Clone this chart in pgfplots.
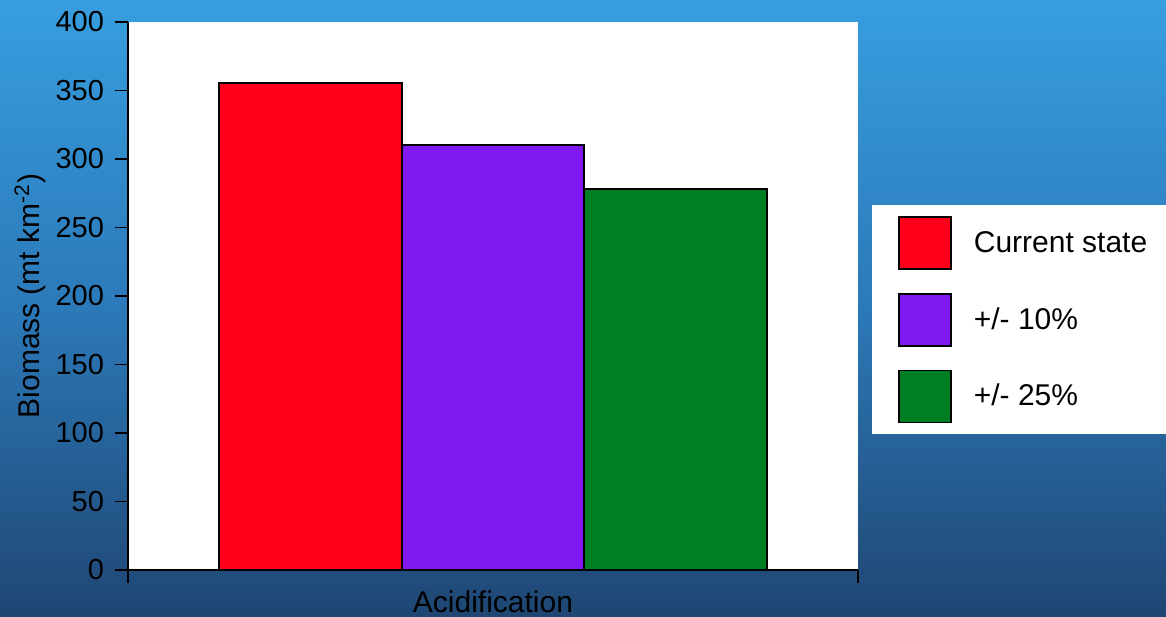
\documentclass[border=0pt]{standalone}
\usepackage{fontspec}
\setmainfont{Liberation Sans}
\usepackage{pgfplots}
\pgfplotsset{compat=1.18}
\definecolor{bgtop}{HTML}{379EDF}
\definecolor{bgmid}{HTML}{2C79B8}
\definecolor{bgbot}{HTML}{1F4673}
\definecolor{cred}{HTML}{FE0019}
\definecolor{cpurple}{HTML}{7F18F1}
\definecolor{cgreen}{HTML}{007E23}
\begin{document}
\begin{tikzpicture}
\useasboundingbox (0,0) rectangle (583pt,308pt);
\shade[top color=bgtop, bottom color=bgbot, middle color=bgmid] (0,0) rectangle (583pt,308pt);
\begin{axis}[
  at={(64pt,23pt)}, anchor=south west,
  width=365pt, height=274pt, scale only axis,
  xmin=0, xmax=4, ymin=0, ymax=400,
  ytick={0,50,...,400}, xtick={0,4}, xticklabels={},
  axis x line*=bottom, axis y line*=left,
  axis line style={-, black, line width=0.8pt},
  tick align=outside, major tick length=6.5pt,
  tick style={black, line width=0.8pt},
  axis background/.style={fill=white},
  /pgf/number format/assume math mode=true,
  tick label style={font=\fontsize{14.5}{17}\selectfont},
  yticklabel style={xshift=-2pt},
  ylabel={Biomass (mt km\textsuperscript{-2})},
  ylabel style={at={(axis description cs:-0.134,0.5)}, anchor=center, rotate=0, font=\fontsize{15}{18}\selectfont},
  xlabel={Acidification},
  xlabel style={at={(axis description cs:0.5,-0.058)}, anchor=center, font=\fontsize{15}{18}\selectfont},
  ybar, bar width=1, bar shift=0pt,
  legend image code/.code={\draw[#1,draw=black,line width=0.8pt] (0pt,-13pt) rectangle (26pt,13pt);},
  legend cell align=left,
  legend style={at={(axis description cs:1.019,0.666)}, anchor=north west,
    fill=white, draw=none, font=\fontsize{15}{18}\selectfont,
    column sep=11pt, row sep=11.5pt, inner xsep=13pt, inner ysep=5.5pt,
    nodes={inner sep=0pt}},
]
\addplot[fill=cred, draw=black, line width=0.8pt] coordinates {(1,355.5)};
\addlegendentry{Current state}
\addplot[fill=cpurple, draw=black, line width=0.8pt] coordinates {(2,310.2)};
\addlegendentry{+/- 10\%}
\addplot[fill=cgreen, draw=black, line width=0.8pt] coordinates {(3,278.1)};
\addlegendentry{+/- 25\%}
\end{axis}
\end{tikzpicture}
\end{document}
